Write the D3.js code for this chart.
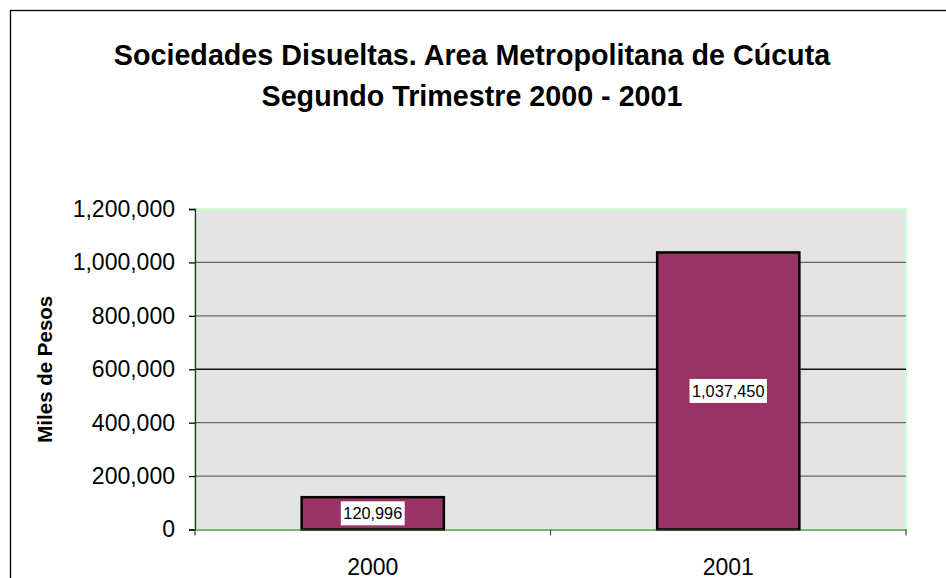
<!DOCTYPE html>
<html>
<head>
<meta charset="utf-8">
<script src="https://cdn.jsdelivr.net/npm/d3@7"></script>
<style>
  body { margin: 0; background: #fff; }
  svg { display: block; font-family: Arial, "Liberation Sans", sans-serif; }
</style>
</head>
<body>
<div id="chart"></div>
<script>
const titleLines = ["Sociedades Disueltas. Area Metropolitana de Cúcuta", "Segundo Trimestre 2000 - 2001"];
const years = ["2000", "2001"];
const values = [120996, 1037450];
const yTicks = [0, 200000, 400000, 600000, 800000, 1000000, 1200000];
const yLabel = "Miles de Pesos";

const width = 946, height = 578;
const margin = { top: 209, right: 40, bottom: 48.5, left: 195 };
const innerW = width - margin.left - margin.right;
const innerH = height - margin.top - margin.bottom;

const svg = d3.select("#chart").append("svg")
    .attr("width", width)
    .attr("height", height);

// outer chart border (runs off the right / bottom edge)
svg.append("rect")
    .attr("x", 10.5).attr("y", 10.5)
    .attr("width", 1000).attr("height", 1000)
    .attr("fill", "none")
    .attr("stroke", "#000")
    .attr("stroke-width", 1.3);

svg.selectAll(".title")
    .data(titleLines)
    .join("text")
    .attr("class", "title")
    .attr("x", 472)
    .attr("y", (d, i) => 65 + i * 41)
    .attr("text-anchor", "middle")
    .attr("font-size", 28.7)
    .attr("font-weight", "bold")
    .text(d => d);

const g = svg.append("g").attr("transform", `translate(${margin.left},${margin.top})`);

const x = d3.scaleBand().domain(years).range([0, innerW]).paddingInner(0).paddingOuter(0);
const y = d3.scaleLinear().domain([0, 1200000]).range([innerH, 0]);

g.append("rect")
    .attr("width", innerW)
    .attr("height", innerH)
    .attr("fill", "#e4e4e4")
    .attr("stroke", "#ccffcc")
    .attr("stroke-width", 2);

// gridlines
g.selectAll(".grid")
    .data(yTicks.filter(d => d > 0 && d < 1200000))
    .join("line")
    .attr("class", "grid")
    .attr("x1", 0).attr("x2", innerW)
    .attr("y1", d => y(d)).attr("y2", d => y(d))
    .attr("stroke", d => d === 600000 ? "#111" : "#666")
    .attr("stroke-width", 1.3);

// bars
const barW = x.bandwidth() * 0.4;
g.selectAll(".bar")
    .data(values)
    .join("rect")
    .attr("class", "bar")
    .attr("x", (d, i) => x(years[i]) + (x.bandwidth() - barW) / 2)
    .attr("y", d => y(d))
    .attr("width", barW)
    .attr("height", d => innerH - y(d))
    .attr("fill", "#993366")
    .attr("stroke", "#000")
    .attr("stroke-width", 2.5);

// data labels with white box
const fmt = d3.format(",");
const lab = g.selectAll(".lab")
    .data(values)
    .join("g")
    .attr("class", "lab")
    .attr("transform", (d, i) => `translate(${x(years[i]) + x.bandwidth() / 2},${(y(d) + innerH) / 2})`);
lab.append("rect")
    .attr("fill", "#fff");
lab.append("text")
    .attr("text-anchor", "middle")
    .attr("dy", "0.36em")
    .attr("font-size", 16.3)
    .text(d => fmt(d));
lab.each(function() {
    const b = d3.select(this).select("text").node().getBBox();
    d3.select(this).select("rect")
        .attr("x", b.x - 2.5).attr("y", -12)
        .attr("width", b.width + 5).attr("height", 24);
});

// y axis
const yAxis = g.append("g")
    .call(d3.axisLeft(y).tickValues(yTicks).tickFormat(fmt).tickSizeOuter(0).tickSize(6).tickPadding(14));
yAxis.select(".domain").attr("stroke", "#1a3a1a").attr("stroke-width", 1.3);
yAxis.selectAll(".tick line").attr("stroke", "#000").attr("stroke-width", 1.3);
yAxis.selectAll(".tick text").attr("font-size", 23).attr("fill", "#000").attr("font-family", "Arial, 'Liberation Sans', sans-serif");

// x axis
const xAxis = g.append("g")
    .attr("transform", `translate(0,${innerH})`)
    .call(d3.axisBottom(x).tickSize(0).tickPadding(0));
xAxis.select(".domain").attr("stroke", "#2b5e2b").attr("stroke-width", 1);
xAxis.selectAll(".tick text")
    .attr("dy", null)
    .attr("y", 45)
    .attr("font-size", 23).attr("fill", "#000").attr("font-family", "Arial, 'Liberation Sans', sans-serif");
g.selectAll(".xsep")
    .data([0, innerW / 2, innerW])
    .join("line")
    .attr("class", "xsep")
    .attr("x1", d => d).attr("x2", d => d)
    .attr("y1", innerH).attr("y2", innerH + 6)
    .attr("stroke", "#555")
    .attr("stroke-width", 1.3);

svg.append("text")
    .attr("transform", `translate(52,${margin.top + innerH / 2}) rotate(-90)`)
    .attr("text-anchor", "middle")
    .attr("font-size", 20.5)
    .attr("font-weight", "bold")
    .text(yLabel);
</script>
</body>
</html>
